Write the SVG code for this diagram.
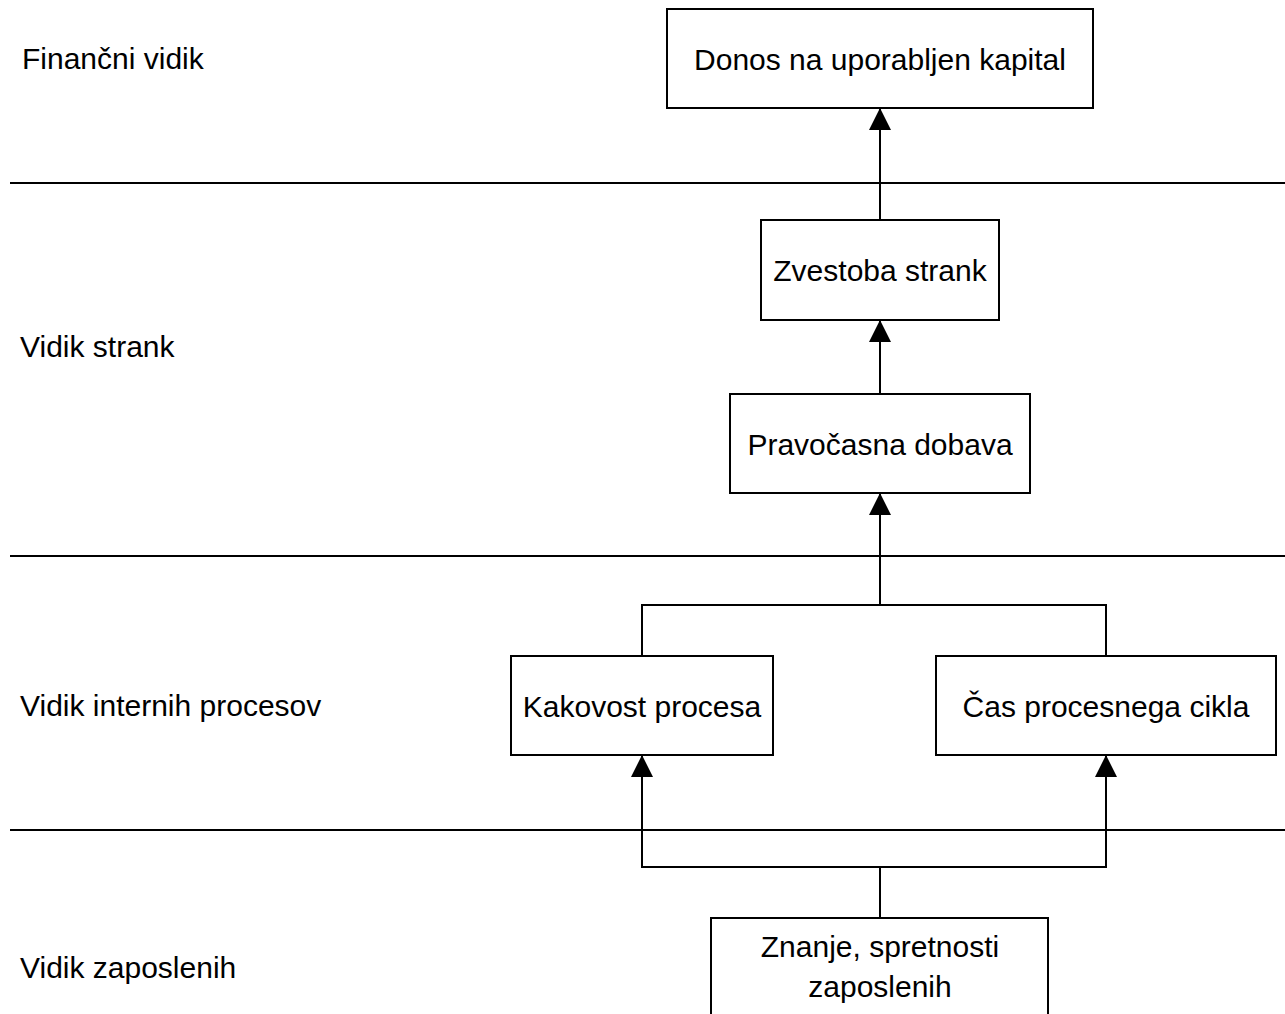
<svg xmlns="http://www.w3.org/2000/svg" width="1285" height="1014" viewBox="0 0 1285 1014">
<style>
.box{fill:#fff;stroke:#000;stroke-width:2}
.t{font-family:"Liberation Sans",Arial,sans-serif;font-size:30px;fill:#000}
.c{text-anchor:middle}
.ln{stroke:#000;stroke-width:2;fill:none}
</style>
<defs>
<marker id="arr" markerWidth="22" markerHeight="24" refX="22" refY="11" orient="auto" markerUnits="userSpaceOnUse">
<path d="M0,0 L22,11 L0,22 Z" fill="#000"/>
</marker>
</defs>
<rect width="1285" height="1014" fill="#fff"/>
<g id="lanes">
<line class="ln" x1="10" y1="183" x2="1285" y2="183"/>
<line class="ln" x1="10" y1="556" x2="1285" y2="556"/>
<line class="ln" x1="10" y1="830" x2="1285" y2="830"/>
<text class="t" x="22" y="69">Finančni vidik</text>
<text class="t" x="20" y="357">Vidik strank</text>
<text class="t" x="20" y="716">Vidik internih procesov</text>
<text class="t" x="20" y="978">Vidik zaposlenih</text>
</g>
<g id="connectors">
<path class="ln" d="M880,220 V108" marker-end="url(#arr)"/>
<path class="ln" d="M880,394 V320" marker-end="url(#arr)"/>
<path class="ln" d="M880,605 V493" marker-end="url(#arr)"/>
<path class="ln" d="M642,656 V605 H1106 V656"/>
<path class="ln" d="M880,918 V867"/>
<path class="ln" d="M880,867 H642 V755" marker-end="url(#arr)"/>
<path class="ln" d="M880,867 H1106 V755" marker-end="url(#arr)"/>
</g>
<g id="n1"><rect class="box" x="667" y="9" width="426" height="99"/><text class="t c" x="880" y="70">Donos na uporabljen kapital</text></g>
<g id="n2"><rect class="box" x="761" y="220" width="238" height="100"/><text class="t c" x="880" y="281">Zvestoba strank</text></g>
<g id="n3"><rect class="box" x="730" y="394" width="300" height="99"/><text class="t c" x="880" y="455">Pravočasna dobava</text></g>
<g id="n4"><rect class="box" x="511" y="656" width="262" height="99"/><text class="t c" x="642" y="717">Kakovost procesa</text></g>
<g id="n5"><rect class="box" x="936" y="656" width="340" height="99"/><text class="t c" x="1106" y="717">Čas procesnega cikla</text></g>
<g id="n6"><rect class="box" x="711" y="918" width="337" height="110"/><text class="t c" x="880" y="957">Znanje, spretnosti</text><text class="t c" x="880" y="997">zaposlenih</text></g>
</svg>
